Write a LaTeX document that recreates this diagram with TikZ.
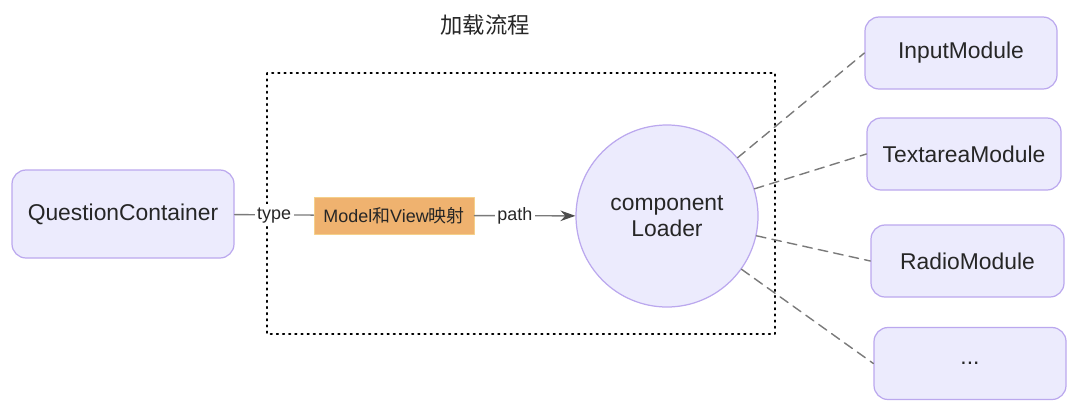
\documentclass[tikz,border=0pt]{standalone}
\usepackage{fontspec}
\setmainfont{Liberation Sans}
\newfontfamily\cjk{Noto Sans CJK SC}
\usetikzlibrary{arrows.meta}
\definecolor{modfill}{HTML}{ECEBFD}
\definecolor{moddraw}{HTML}{BBA8EE}
\definecolor{mapfill}{HTML}{EFB26F}
\definecolor{mapdraw}{HTML}{F5D08A}
\definecolor{txt}{HTML}{262626}
\definecolor{link}{HTML}{7A7A7A}

\begin{document}
\begin{tikzpicture}[line cap=round,line join=round,>=Stealth,every node/.style={inner sep=1pt,text=txt}]
  \tikzset{
    modbox/.style={draw=moddraw,fill=modfill,line width=0.7pt,rounded corners=8pt,minimum width=3.84cm,minimum height=1.44cm,font=\fontsize{13}{15}\selectfont},
    mapbox/.style={draw=mapdraw,fill=mapfill,line width=0.5pt,minimum width=3.2cm,minimum height=0.74cm,font=\fontsize{10.2}{12}\selectfont},
    tag/.style={fill=white,inner sep=1.5pt,text height=1.4ex,text depth=0.4ex,font=\fontsize{10.2}{12}\selectfont},
    wire/.style={draw=link,line width=0.8pt},
    spoke/.style={draw=link,line width=0.8pt,dash pattern=on 5.5pt off 3.5pt}
  }
  \useasboundingbox (0,0) rectangle (21.6,8.3);
  % loading area
  \draw[line width=0.9pt,dash pattern=on 0.9pt off 2.6pt] (5.34,6.84) rectangle (15.5,1.62);
  \node (title) at (9.7,7.8) {\cjk\fontsize{12.7}{15}\selectfont 加载流程};
  \node[modbox,minimum width=4.44cm,minimum height=1.76cm] (qc) at (2.46,4.02) {QuestionContainer};
  \node[mapbox] (map) at (7.88,3.99) {Model{\cjk 和}View{\cjk 映射}};
  \node[circle,draw=moddraw,fill=modfill,line width=0.7pt,minimum size=3.64cm,align=center,
        font=\fontsize{13}{15}\selectfont] (loader) at (13.34,3.98) {component\\Loader};
  % modules
  \node[modbox] (input) at (19.22,7.24) {InputModule};
  \node[modbox,minimum width=3.88cm] (textarea) at (19.28,5.22) {TextareaModule};
  \node[modbox,minimum width=3.86cm] (radio) at (19.35,3.08) {RadioModule};
  \node[modbox] (more) at (19.40,1.03) {...};
  \draw[wire] (qc) -- node[tag] {type} (map);
  \draw[wire,-{Stealth[length=8.5pt,width=6pt,color=black!70]}] (map) -- node[tag,pos=0.4] {path} (loader);
  \foreach \m in {input,textarea,radio,more} {
    \draw[spoke] (loader) -- (\m.west);
  }
\end{tikzpicture}
\end{document}
